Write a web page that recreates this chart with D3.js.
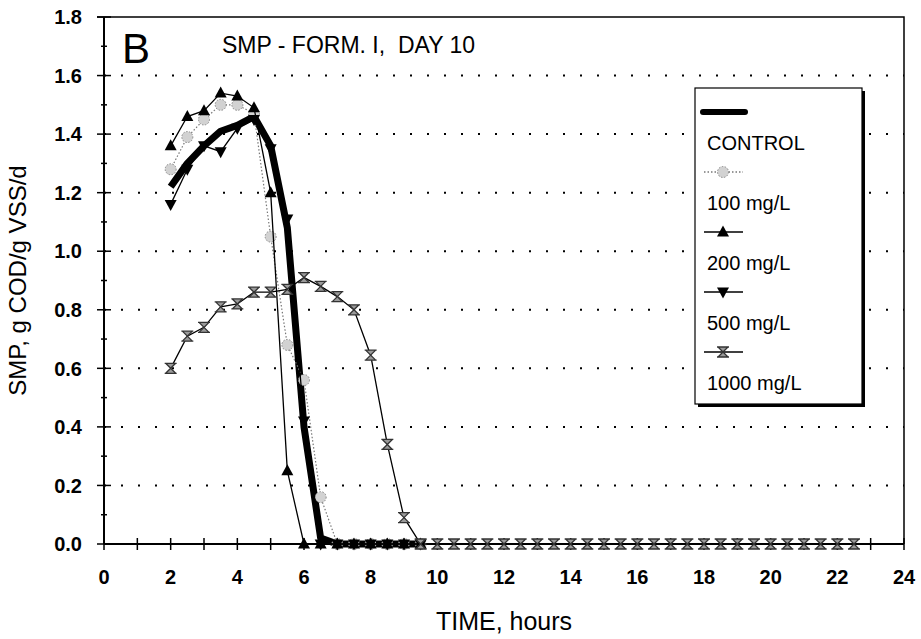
<!DOCTYPE html>
<html>
<head>
<meta charset="utf-8">
<script src="https://cdn.jsdelivr.net/npm/d3@7"></script>
<style>
  body { margin: 0; background: #fff; }
  text { font-family: "Liberation Sans", Arial, sans-serif; fill: #000; white-space: pre; }
</style>
</head>
<body>
<div class="smp-chart"></div>
<script>
// sampling times (hours), shared by all series
const hours = [2, 2.5, 3, 3.5, 4, 4.5, 5, 5.5, 6, 6.5, 7, 7.5, 8, 8.5, 9, 9.5,
  10, 10.5, 11, 11.5, 12, 12.5, 13, 13.5, 14, 14.5, 15, 15.5, 16, 16.5, 17, 17.5,
  18, 18.5, 19, 19.5, 20, 20.5, 21, 21.5, 22, 22.5];

const control = [1.22, 1.30, 1.36, 1.41, 1.43, 1.46, 1.36, 1.08, 0.40, 0.02, 0, 0, 0, 0, 0, 0];
const mg100 = [1.28, 1.39, 1.45, 1.50, 1.50, 1.47, 1.05, 0.68, 0.56, 0.16, 0, 0, 0, 0, 0, 0];
const mg200 = [1.36, 1.46, 1.48, 1.54, 1.53, 1.49, 1.20, 0.25, 0, 0, 0, 0, 0, 0, 0, 0];
const mg500 = [1.16, 1.28, 1.36, 1.34, 1.42, 1.45, 1.35, 1.11, 0.42, 0, 0, 0, 0, 0, 0, 0];
const mg1000 = [0.60, 0.71, 0.74, 0.81, 0.82, 0.86, 0.86, 0.87, 0.91, 0.88, 0.845, 0.80, 0.645, 0.34, 0.09, 0,
  0, 0, 0, 0, 0, 0, 0, 0, 0, 0, 0, 0, 0, 0, 0, 0,
  0, 0, 0, 0, 0, 0, 0, 0, 0, 0];

const legendLabels = ["CONTROL", "100 mg/L", "200 mg/L", "500 mg/L", "1000 mg/L"];
const yTicks = [0, 0.2, 0.4, 0.6, 0.8, 1.0, 1.2, 1.4, 1.6, 1.8];
const xTicks = [0, 2, 4, 6, 8, 10, 12, 14, 16, 18, 20, 22, 24];

const margin = {top: 17, right: 17, bottom: 95, left: 104},
    width = 921 - margin.left - margin.right,
    height = 639 - margin.top - margin.bottom;

const svg = d3.select(".smp-chart")
    .append("svg")
    .attr("width", 921)
    .attr("height", 639)
    .append("g")
    .attr("transform", `translate(${margin.left},${margin.top})`);

const x = d3.scaleLinear().domain([0, 24]).range([0, width]);
const y = d3.scaleLinear().domain([0, 1.8]).range([height, 0]);

// dotted gridlines
svg.selectAll(".grid")
    .data(yTicks.filter(d => d > 0 && d < 1.8))
    .join("line")
    .attr("x1", 0).attr("x2", width)
    .attr("y1", d => y(d)).attr("y2", d => y(d))
    .attr("stroke", "#000")
    .attr("stroke-width", 2)
    .attr("stroke-dasharray", "2,15");

// frame (top and right)
svg.append("path")
    .attr("d", `M-7,0H${width}V${height}`)
    .attr("fill", "none")
    .attr("stroke", "#000")
    .attr("stroke-width", 1.5);

// y axis with crossing ticks
svg.append("line").attr("x1", 0).attr("x2", 0).attr("y1", 0).attr("y2", height)
    .attr("stroke", "#000").attr("stroke-width", 2);
svg.selectAll(".ytick").data(yTicks).join("line")
    .attr("x1", -7).attr("x2", 7).attr("y1", d => y(d)).attr("y2", d => y(d))
    .attr("stroke", "#000").attr("stroke-width", 1.5);
svg.selectAll(".yminor").data(yTicks.slice(0, -1)).join("line")
    .attr("x1", -3).attr("x2", 3).attr("y1", d => y(d + 0.1)).attr("y2", d => y(d + 0.1))
    .attr("stroke", "#000").attr("stroke-width", 1.5);
svg.selectAll(".ylab").data(yTicks).join("text")
    .attr("x", -22).attr("y", d => y(d)).attr("dy", "0.36em")
    .attr("text-anchor", "end")
    .style("font-size", "20px").style("font-weight", "bold")
    .text(d => d.toFixed(1));

// x axis with crossing ticks every hour
svg.append("line").attr("x1", 0).attr("x2", width).attr("y1", height).attr("y2", height)
    .attr("stroke", "#000").attr("stroke-width", 2);
svg.selectAll(".xtick").data(d3.range(0, 25)).join("line")
    .attr("x1", d => x(d)).attr("x2", d => x(d)).attr("y1", height - 6).attr("y2", height + 6)
    .attr("stroke", "#000").attr("stroke-width", 1.5);
svg.selectAll(".xlab").data(xTicks).join("text")
    .attr("x", d => x(d)).attr("y", height + 40)
    .attr("text-anchor", "middle")
    .style("font-size", "20px").style("font-weight", "bold")
    .text(d => d);

// axis titles
svg.append("text")
    .attr("x", x(12)).attr("y", height + 86)
    .attr("text-anchor", "middle")
    .style("font-size", "25px")
    .text("TIME, hours");
svg.append("text")
    .attr("transform", "rotate(-90)")
    .attr("x", -y(0.9)).attr("y", -78)
    .attr("text-anchor", "middle")
    .style("font-size", "24px")
    .text("SMP, g COD/g VSS/d");

// panel letter and title
svg.append("text").attr("x", 18).attr("y", 46)
    .style("font-size", "42px").text("B");
svg.append("text").attr("x", 118).attr("y", 36)
    .style("font-size", "23px").text("SMP - FORM. I,  DAY 10");

// series
const pts = vals => vals.map((v, i) => [hours[i], v]);
const line = d3.line().x(d => x(d[0])).y(d => y(d[1]));

const triUp = "M0,-6.5L6,4.5L-6,4.5Z";
const triDown = "M-6,-4.5L6,-4.5L0,6.5Z";
const hourglass = "M-6,-5H6M-6,5H6M-5,-5L5,5M5,-5L-5,5";

const series = [
  {name: "control", data: pts(control)},
  {name: "100", data: pts(mg100)},
  {name: "200", data: pts(mg200)},
  {name: "500", data: pts(mg500)},
  {name: "1000", data: pts(mg1000)}
];

function drawLine(s, g) {
  if (s.name === "control") {
    g.append("path").attr("d", line(s.data)).attr("fill", "none")
      .attr("stroke", "#000").attr("stroke-width", 7).attr("stroke-linejoin", "round");
  } else if (s.name === "100") {
    g.append("path").attr("d", line(s.data)).attr("fill", "none")
      .attr("stroke", "#777").attr("stroke-width", 1.2).attr("stroke-dasharray", "1.5,2");
  } else {
    g.append("path").attr("d", line(s.data)).attr("fill", "none")
      .attr("stroke", "#000").attr("stroke-width", 1.3);
  }
}

function drawMarker(name, g) {
  if (name === "100") {
    g.append("circle").attr("r", 5.5).attr("fill", "#d2d2d2")
      .attr("stroke", "#888").attr("stroke-width", 1).attr("stroke-dasharray", "1.5,1.5");
  } else if (name === "200") {
    g.append("path").attr("d", triUp).attr("fill", "#000");
  } else if (name === "500") {
    g.append("path").attr("d", triDown).attr("fill", "#000");
  } else if (name === "1000") {
    g.append("path").attr("d", "M-5,-5L5,-5L-5,5L5,5Z").attr("fill", "#9a9a9a");
    g.append("path").attr("d", hourglass).attr("stroke", "#333").attr("stroke-width", 1.3).attr("fill", "none");
  }
}

series.forEach(s => {
  const g = svg.append("g");
  drawLine(s, g);
  g.selectAll("g.m").data(s.data).join("g")
    .attr("transform", d => `translate(${x(d[0])},${y(d[1])})`)
    .each(function() { drawMarker(s.name, d3.select(this)); });
});

// legend
const lg = svg.append("g").attr("transform", `translate(${695 - margin.left},${88 - margin.top})`);
lg.append("rect").attr("x", 3).attr("y", 3).attr("width", 167).attr("height", 316).attr("fill", "#000");
lg.append("rect").attr("width", 167).attr("height", 316).attr("fill", "#fff")
    .attr("stroke", "#000").attr("stroke-width", 1.2);

const names = ["control", "100", "200", "500", "1000"];
names.forEach((n, i) => {
  const sy = 24 + i * 60;
  const sample = lg.append("g");
  if (n === "control") {
    sample.append("line").attr("x1", 8).attr("x2", 50).attr("y1", sy).attr("y2", sy)
      .attr("stroke", "#000").attr("stroke-width", 6).attr("stroke-linecap", "round");
  } else {
    sample.append("line").attr("x1", 9).attr("x2", 48).attr("y1", sy).attr("y2", sy)
      .attr("stroke", n === "100" ? "#777" : "#000").attr("stroke-width", 1.3)
      .attr("stroke-dasharray", n === "100" ? "1.5,2" : null);
    drawMarker(n, sample.append("g").attr("transform", `translate(28,${sy})`));
  }
  lg.append("text").attr("x", 12).attr("y", sy + 31).attr("dy", "0.36em")
    .style("font-size", "20px").text(legendLabels[i]);
});
</script>
</body>
</html>
